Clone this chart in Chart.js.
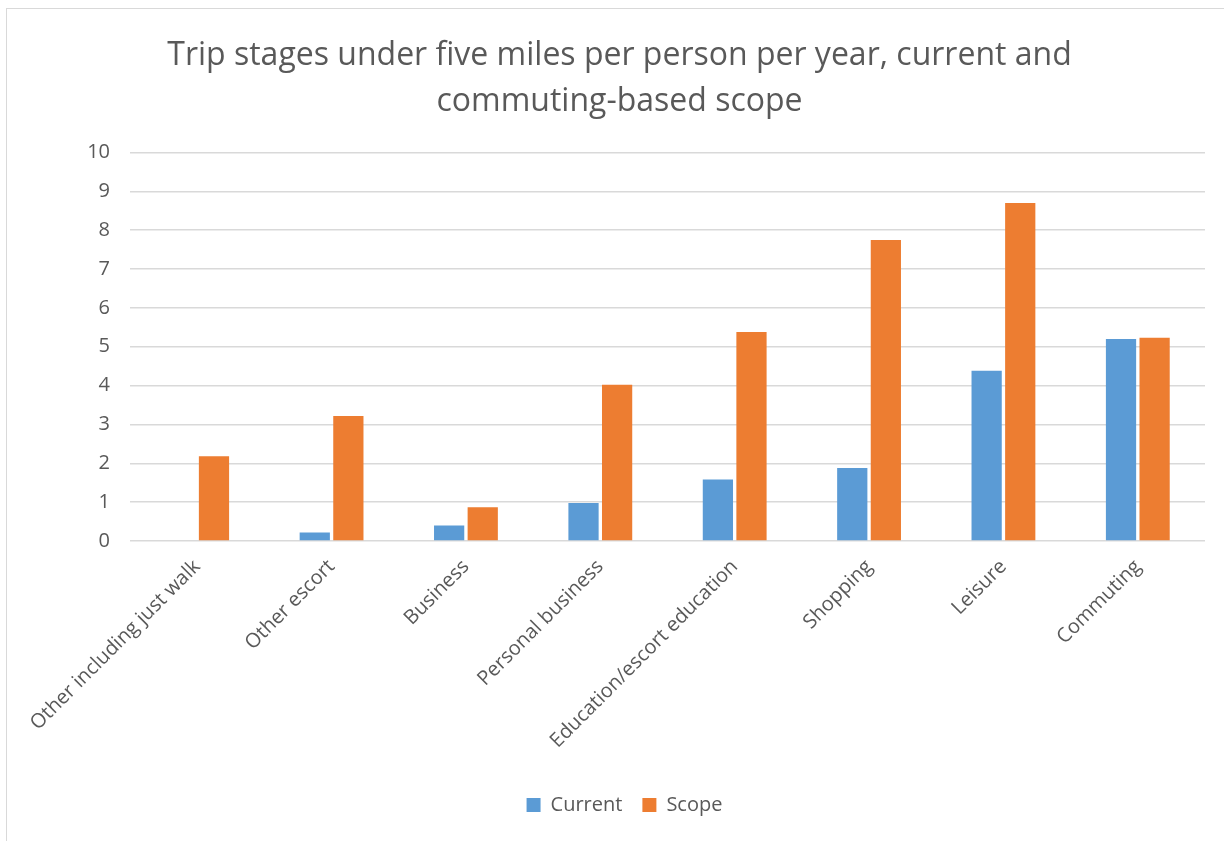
<!DOCTYPE html>
<html>
<head>
<meta charset="utf-8">
<script src="https://cdn.jsdelivr.net/npm/chart.js@4"></script>
<style>
	html, body { margin: 0; padding: 0; background: #fff; }
	#wrap { position: relative; width: 1224px; height: 841px; }
	#frame { position: absolute; left: 6px; top: 8px; width: 1230px; height: 850px; border-left: 1px solid #d9d9d9; border-top: 1px solid #d9d9d9; }
	canvas { position: absolute; left: 0; top: 0; }
</style>
</head>
<body>
<div id="wrap">
	<div id="frame"></div>
	<canvas id="chart-1" width="1224" height="841"></canvas>
</div>
<script>
// chart data
var categories = ["Other including just walk", "Other escort", "Business", "Personal business",
	"Education/escort education", "Shopping", "Leisure", "Commuting"];
var currentValues = [0.02, 0.22, 0.40, 0.98, 1.58, 1.88, 4.38, 5.20];
var scopeValues = [2.18, 3.22, 0.87, 4.02, 5.38, 7.75, 8.70, 5.23];
var yTicks = [0, 1, 2, 3, 4, 5, 6, 7, 8, 9, 10];

var textColour = "#595959";
var fontName = "'Open Sans', sans-serif";

var data1 = {
	labels: categories,
	datasets: [{
		label: "Current",
		backgroundColor: "#5b9bd5",
		data: currentValues,
		barPercentage: 0.9,
		categoryPercentage: 0.5
	}, {
		label: "Scope",
		backgroundColor: "#ed7d31",
		data: scopeValues,
		barPercentage: 0.9,
		categoryPercentage: 0.5
	}]
};

var options1 = {
	responsive: false,
	animation: false,
	layout: {
		padding: { left: 8, right: 19, top: 14, bottom: 16 }
	},
	plugins: {
		title: {
			display: true,
			text: ["Trip stages under five miles per person per year, current and", "commuting-based scope"],
			color: textColour,
			font: { family: fontName, size: 32, weight: "normal", lineHeight: 1.43 },
			padding: { top: 19, bottom: 28 }
		},
		legend: {
			position: "bottom",
			labels: {
				color: textColour,
				font: { family: fontName, size: 20 },
				boxWidth: 14,
				boxHeight: 14,
				padding: 20
			}
		},
		tooltip: { enabled: false }
	},
	scales: {
		x: {
			afterFit: function(axis) { axis.height = 234; },
			grid: { display: false, drawTicks: false },
			border: { display: false },
			ticks: {
				color: textColour,
				font: { family: fontName, size: 20 },
				maxRotation: 45,
				minRotation: 45,
				padding: 14
			}
		},
		y: {
			min: 0,
			max: 10,
			afterBuildTicks: function(axis) {
				axis.ticks = yTicks.map(function(v) { return { value: v }; });
			},
			afterFit: function(axis) { axis.width = 122; },
			grid: { color: "#d9d9d9", lineWidth: 1.5, drawTicks: false },
			border: { display: false },
			ticks: {
				color: textColour,
				font: { family: fontName, size: 20 },
				padding: 20
			}
		}
	}
};

// title and legend sit a little right of centre in the original
var boxShift = {
	id: 'boxShift',
	afterLayout: function(chart) {
		chart.legend.left += 18;
		chart.legend.right += 18;
		chart.titleBlock.left += 13;
		chart.titleBlock.right += 13;
	}
};

var graph = new Chart('chart-1', {
	type: 'bar',
	data: data1,
	options: options1,
	plugins: [boxShift]
});
</script>
</body>
</html>
